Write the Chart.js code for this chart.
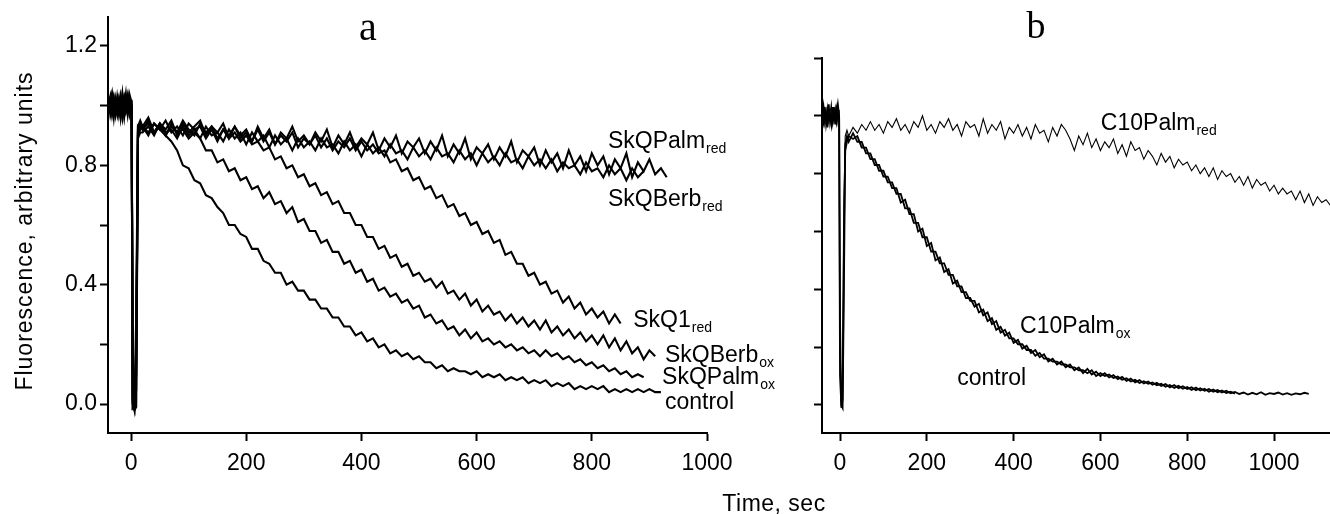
<!DOCTYPE html>
<html>
<head>
<meta charset="utf-8">
<script src="https://cdn.jsdelivr.net/npm/chart.js@4.4.1/dist/chart.umd.min.js"></script>
<style>
  html, body { margin: 0; padding: 0; background: #fff; }
  #wrap { position: relative; width: 1330px; height: 514px; }
  #chartA { position: absolute; left: 0; top: 0; }
  #chartB { position: absolute; left: 740px; top: 0; }
</style>
</head>
<body>
<div id="wrap">
  <canvas id="chartA" width="1330" height="514"></canvas>
  <canvas id="chartB" width="590" height="514"></canvas>
</div>
<script>
// ---- ticks ----
const tickX = [0, 200, 400, 600, 800, 1000];
const tickY = [0, 0.2, 0.4, 0.6, 0.8, 1.0, 1.2];
const tickYLabelsA = ['0.0', '', '0.4', '', '0.8', '', '1.2'];
const tickYLabelsB = ['', '', '', '', '', '', ''];

// ---- panel a : time (s) ----
const timeA = [-39,-36,-33,-30,-27,-24,-21,-18,-15,-12,-9,-6,-3,1,3,6,9,12,16,
  20,30,40,50,60,70,80,90,100,110,
  120,130,140,150,160,170,180,190,200,210,
  220,230,240,250,260,270,280,290,300,310,
  320,330,340,350,360,370,380,390,400,410,
  420,430,440,450,460,470,480,490,500,510,
  520,530,540,550,560,570,580,590,600,610,
  620,630,640,650,660,670,680,690,700,710,
  720,730,740,750,760,770,780,790,800,810,
  820,830,840,850,860,870,880,890,900,910,
  920,930];

const controlA = [1.01,0.98,1.03,0.99,1.00,0.97,1.02,0.99,1.04,0.98,1.01,0.97,1.03,1.00,0.00,-0.02,-0.01,0.90,0.92,
  0.93,0.91,0.94,0.92,0.90,0.88,0.85,0.80,0.79,0.75,
  0.74,0.70,0.69,0.66,0.64,0.60,0.60,0.57,0.56,0.52,
  0.52,0.48,0.47,0.44,0.44,0.40,0.41,0.38,0.38,0.35,
  0.35,0.32,0.32,0.29,0.29,0.26,0.26,0.23,0.24,0.21,
  0.22,0.19,0.20,0.17,0.18,0.16,0.17,0.15,0.16,0.14,
  0.14,0.12,0.13,0.11,0.12,0.11,0.11,0.10,0.11,0.09,
  0.10,0.09,0.10,0.08,0.09,0.08,0.09,0.07,0.08,0.07,
  0.08,0.06,0.07,0.06,0.07,0.05,0.06,0.05,0.06,0.05,
  0.06,0.04,0.05,0.04,0.05,0.04,0.05,0.04,0.05,0.04,
  0.04];

const skqPalmOx = [0.99,1.02,0.97,1.01,0.98,1.03,0.99,1.00,0.96,1.02,0.99,1.03,0.98,0.99,0.02,-0.01,0.20,0.91,0.93,
  0.92,0.94,0.91,0.93,0.90,0.94,0.91,0.92,0.89,0.91,
  0.89,0.85,0.85,0.81,0.82,0.78,0.79,0.75,0.76,0.72,
  0.73,0.69,0.71,0.67,0.68,0.64,0.66,0.61,0.62,0.58,
  0.58,0.54,0.55,0.51,0.51,0.47,0.48,0.44,0.45,0.41,
  0.42,0.38,0.39,0.36,0.37,0.34,0.35,0.32,0.33,0.29,
  0.30,0.27,0.28,0.25,0.26,0.23,0.25,0.22,0.24,0.21,
  0.22,0.20,0.21,0.19,0.20,0.18,0.19,0.17,0.18,0.16,
  0.18,0.16,0.17,0.15,0.16,0.14,0.15,0.13,0.14,0.12,
  0.13,0.11,0.12,0.10,0.11,0.09,0.10,0.09];

const skqBerbOx = [1.03,0.99,1.01,0.96,1.02,0.98,1.00,1.03,0.97,1.01,0.99,1.02,1.00,0.98,-0.01,0.00,0.10,0.93,0.92,
  0.93,0.90,0.94,0.92,0.95,0.91,0.93,0.90,0.94,0.92,
  0.93,0.89,0.92,0.88,0.92,0.89,0.91,0.88,0.90,0.87,
  0.88,0.85,0.86,0.82,0.83,0.79,0.80,0.76,0.77,0.73,
  0.74,0.70,0.71,0.67,0.68,0.64,0.64,0.60,0.60,0.56,
  0.56,0.52,0.53,0.49,0.50,0.46,0.47,0.43,0.44,0.41,
  0.42,0.39,0.41,0.37,0.38,0.35,0.37,0.33,0.35,0.31,
  0.33,0.30,0.31,0.28,0.30,0.27,0.29,0.26,0.28,0.25,
  0.28,0.24,0.26,0.23,0.25,0.22,0.24,0.21,0.23,0.20,
  0.23,0.19,0.22,0.18,0.21,0.17,0.19,0.15,0.18,0.16];

const skq1Red = [1.00,1.03,0.98,1.02,0.97,1.01,0.98,1.03,0.99,1.00,1.04,0.98,1.01,0.99,0.01,-0.02,0.05,0.92,0.94,
  0.92,0.95,0.91,0.94,0.90,0.93,0.91,0.95,0.92,0.90,
  0.94,0.91,0.93,0.89,0.92,0.90,0.93,0.89,0.91,0.88,
  0.92,0.88,0.91,0.87,0.90,0.88,0.91,0.86,0.89,0.87,
  0.90,0.86,0.89,0.85,0.88,0.86,0.89,0.85,0.88,0.85,
  0.87,0.84,0.85,0.81,0.82,0.78,0.79,0.75,0.76,0.72,
  0.73,0.69,0.70,0.66,0.67,0.63,0.64,0.60,0.61,0.57,
  0.58,0.54,0.55,0.50,0.51,0.47,0.47,0.43,0.44,0.40,
  0.41,0.37,0.38,0.34,0.36,0.32,0.34,0.30,0.32,0.29,
  0.31,0.27,0.30,0.27];

const skqPalmRed = [0.98,1.01,1.04,0.98,1.00,1.02,0.97,1.01,1.00,0.96,1.02,0.99,1.04,1.01,0.00,-0.01,0.30,0.93,0.95,
  0.93,0.96,0.91,0.94,0.92,0.95,0.90,0.94,0.91,0.93,
  0.95,0.90,0.93,0.91,0.94,0.89,0.93,0.90,0.92,0.88,
  0.93,0.89,0.92,0.87,0.91,0.89,0.93,0.88,0.90,0.87,
  0.91,0.88,0.92,0.86,0.90,0.87,0.91,0.86,0.89,0.87,
  0.91,0.85,0.89,0.86,0.90,0.84,0.88,0.86,0.89,0.84,
  0.88,0.85,0.90,0.83,0.87,0.84,0.89,0.82,0.86,0.84,
  0.87,0.82,0.86,0.83,0.88,0.81,0.85,0.83,0.86,0.80,
  0.85,0.81,0.84,0.79,0.85,0.80,0.83,0.78,0.84,0.80,
  0.83,0.77,0.82,0.79,0.84,0.76,0.81,0.78,0.82,0.77,
  0.79,0.76];

const skqBerbRed = [1.02,0.97,1.00,1.03,0.99,0.98,1.02,0.96,1.01,1.03,0.98,1.00,0.97,1.02,-0.02,0.01,0.15,0.89,0.91,
  0.91,0.93,0.90,0.94,0.91,0.92,0.89,0.93,0.90,0.92,
  0.89,0.93,0.90,0.91,0.88,0.92,0.89,0.91,0.87,0.91,
  0.88,0.90,0.86,0.90,0.87,0.89,0.85,0.89,0.86,0.88,
  0.85,0.89,0.86,0.87,0.84,0.88,0.85,0.87,0.83,0.87,
  0.84,0.86,0.83,0.87,0.84,0.85,0.82,0.86,0.83,0.85,
  0.82,0.86,0.83,0.84,0.81,0.85,0.82,0.84,0.80,0.84,
  0.81,0.83,0.80,0.84,0.81,0.82,0.79,0.83,0.80,0.82,
  0.79,0.82,0.78,0.81,0.79,0.80,0.77,0.81,0.78,0.79,
  0.76,0.80,0.77,0.79,0.75,0.79,0.76,0.78];

// ---- panel b : time (s) ----
const timeB = [-41,-38,-35,-32,-29,-26,-23,-20,-17,-14,-11,-8,-5,-2,0,3,6,9,12,16,
  20,30,40,50,60,70,80,90,100,110,
  120,130,140,150,160,170,180,190,200,210,
  220,230,240,250,260,270,280,290,300,310,
  320,330,340,350,360,370,380,390,400,410,
  420,430,440,450,460,470,480,490,500,510,
  520,530,540,550,560,570,580,590,600,610,
  620,630,640,650,660,670,680,690,700,710,
  720,730,740,750,760,770,780,790,800,810,
  820,830,840,850,860,870,880,890,900,910,
  920,930,940,950,960,970,980,990,1000,1010,
  1020,1030,1040,1050,1060,1070,1080,1090,1100,1110,
  1120,1130];

const controlB = [1.02,0.99,1.03,0.97,1.00,1.04,0.98,1.01,0.99,1.03,0.97,1.01,1.04,1.00,0.30,-0.01,0.02,0.60,0.88,0.91,
  0.93,0.92,0.93,0.89,0.89,0.85,0.85,0.81,0.81,0.77,
  0.77,0.73,0.73,0.68,0.68,0.63,0.63,0.58,0.58,0.53,
  0.53,0.49,0.49,0.45,0.45,0.41,0.41,0.37,0.37,0.34,
  0.35,0.31,0.32,0.28,0.29,0.25,0.26,0.23,0.23,0.21,
  0.21,0.19,0.19,0.17,0.18,0.16,0.16,0.15,0.15,0.14,
  0.14,0.13,0.13,0.12,0.12,0.11,0.12,0.10,0.11,0.10,
  0.105,0.093,0.098,0.087,0.092,0.081,0.087,0.076,0.082,0.073,
  0.078,0.068,0.073,0.063,0.069,0.059,0.066,0.056,0.062,0.052,
  0.06,0.05,0.056,0.046,0.053,0.044,0.05,0.041,0.046,0.039];

const c10PalmOx = [0.99,1.03,0.98,1.01,0.96,1.02,1.00,0.97,1.03,0.99,1.02,0.98,1.01,0.99,0.10,0.00,-0.01,0.40,0.90,0.93,
  0.91,0.94,0.91,0.91,0.87,0.87,0.83,0.83,0.79,0.79,
  0.75,0.75,0.70,0.71,0.66,0.66,0.60,0.61,0.55,0.56,
  0.50,0.51,0.46,0.47,0.42,0.43,0.39,0.39,0.36,0.36,
  0.32,0.33,0.29,0.30,0.26,0.27,0.24,0.25,0.215,0.225,
  0.195,0.205,0.18,0.19,0.165,0.175,0.15,0.16,0.14,0.15,
  0.13,0.14,0.12,0.13,0.11,0.125,0.105,0.115,0.10,0.11,
  0.095,0.103,0.089,0.097,0.083,0.091,0.078,0.086,0.074,0.081,
  0.07,0.077,0.066,0.072,0.061,0.069,0.058,0.065,0.055,0.061,
  0.051,0.058,0.049,0.055,0.046,0.052,0.043,0.049,0.04,0.045,
  0.038,0.043,0.036,0.042,0.037,0.044,0.035,0.041,0.038,0.043,
  0.036,0.041,0.035,0.04,0.037,0.042,0.038];

const c10PalmRed = [1.00,0.97,1.02,0.99,1.03,0.98,1.01,1.04,0.97,1.00,0.99,1.03,0.98,1.02,0.20,0.01,0.05,0.70,0.93,0.95,
  0.93,0.96,0.94,0.97,0.95,0.98,0.95,0.97,0.94,0.98,
  0.96,0.99,0.95,0.97,0.94,0.98,0.96,1.00,0.95,0.97,
  0.94,0.98,0.96,0.99,0.95,0.97,0.93,0.98,0.96,0.97,
  0.93,0.99,0.94,0.97,0.95,0.98,0.92,0.96,0.94,0.97,
  0.93,0.96,0.92,0.97,0.94,0.95,0.91,0.96,0.93,0.97,
  0.95,0.92,0.88,0.93,0.90,0.94,0.89,0.92,0.88,0.91,
  0.89,0.92,0.87,0.90,0.86,0.91,0.88,0.89,0.85,0.88,
  0.86,0.83,0.87,0.84,0.86,0.82,0.85,0.83,0.84,0.81,
  0.83,0.80,0.82,0.79,0.82,0.78,0.81,0.79,0.80,0.77,
  0.79,0.76,0.79,0.75,0.78,0.76,0.77,0.74,0.76,0.73,
  0.75,0.73,0.74,0.71,0.74,0.70,0.73,0.69,0.72,0.70,
  0.71,0.69];

// curve labels (left end / baseline, in data units)
const labelTextA = ['SkQPalm', 'SkQBerb', 'SkQ1', 'SkQBerb', 'SkQPalm', 'control'];
const labelSubA  = ['red', 'red', 'red', 'ox', 'ox', ''];
const labelXA    = [828, 828, 872, 927, 922, 927];
const labelYA    = [0.857, 0.662, 0.259, 0.141, 0.067, -0.017];

const labelTextB = ['C10Palm', 'C10Palm', 'control'];
const labelSubB  = ['red', 'ox', ''];
const labelXB    = [601, 415, 270];
const labelYB    = [0.952, 0.249, 0.069];

const FONT = '"Liberation Sans", Arial, Helvetica, sans-serif';
const SERIF = '"Liberation Serif", "Times New Roman", serif';

function pts(times, vals) {
  return vals.map((v, i) => ({ x: times[i], y: v }));
}

function line(vals, times, w) {
  return { data: pts(times, vals), borderColor: '#000', borderWidth: w,
           pointRadius: 0, tension: 0, fill: false };
}

function curveLabels(texts, subs, xs, ys) {
  return {
    id: 'curveLabels',
    afterDraw(chart) {
      const ctx = chart.ctx, sx = chart.scales.x, sy = chart.scales.y;
      ctx.save();
      ctx.fillStyle = '#000';
      ctx.textAlign = 'left';
      ctx.textBaseline = 'alphabetic';
      texts.forEach((t, i) => {
        const px = sx.getPixelForValue(xs[i]);
        const py = sy.getPixelForValue(ys[i]);
        ctx.font = '23px ' + FONT;
        ctx.fillText(t, px, py);
        if (subs[i]) {
          const w = ctx.measureText(t).width;
          ctx.font = '14px ' + FONT;
          ctx.fillText(subs[i], px + w + 1, py + 5);
        }
      });
      ctx.restore();
    }
  };
}

function axisOpts(min, max, ticks, labels, labelPad, fit) {
  return {
    type: 'linear', min: min, max: max,
    afterBuildTicks: s => { s.ticks = ticks.map(v => ({ value: v })); },
    ticks: { autoSkip: false, maxRotation: 0, color: '#000',
             font: { size: 23, family: FONT }, padding: labelPad,
             callback: (v, i) => labels[i] },
    grid: { drawOnChartArea: false, drawTicks: true, tickLength: 8, tickWidth: 2, tickColor: '#000' },
    border: { display: true, color: '#000', width: 2 },
    afterFit: fit
  };
}

const pageText = {
  id: 'pageText',
  afterDraw(chart) {
    const ctx = chart.ctx;
    ctx.save();
    ctx.fillStyle = '#000';
    ctx.font = '40px ' + SERIF;
    ctx.textAlign = 'center';
    ctx.textBaseline = 'alphabetic';
    ctx.fillText('a', 368, 40);
    ctx.font = '23px ' + FONT;
    ctx.letterSpacing = '0.5px';
    ctx.fillText('Time, sec', 774, 511);
    ctx.translate(32, 231);
    ctx.rotate(-Math.PI / 2);
    ctx.letterSpacing = '1px';
    ctx.fillText('Fluorescence, arbitrary units', 0, 0);
    ctx.restore();
  }
};

const panelBText = {
  id: 'panelBText',
  afterDraw(chart) {
    const ctx = chart.ctx;
    ctx.save();
    ctx.fillStyle = '#000';
    ctx.font = '38px ' + SERIF;
    ctx.textAlign = 'center';
    ctx.fillText('b', 296, 38);
    ctx.restore();
  }
};

const xLabels = tickX.map(v => String(v));

new Chart(document.getElementById('chartA'), {
  type: 'line',
  data: {
    datasets: [
      line(skqPalmRed, timeA, 2.1),
      line(skqBerbRed, timeA, 2.1),
      line(skq1Red, timeA, 2.1),
      line(skqBerbOx, timeA, 2.1),
      line(skqPalmOx, timeA, 2.1),
      line(controlA, timeA, 2.1)
    ]
  },
  options: {
    responsive: false, animation: false, devicePixelRatio: 1,
    layout: { padding: { left: 0, top: 17, right: 623, bottom: 0 } },
    plugins: { legend: { display: false }, tooltip: { enabled: false } },
    scales: {
      x: axisOpts(-40, 1000, tickX, xLabels, 9, s => { s.height = 81; }),
      y: axisOpts(-0.097, 1.297, tickY, tickYLabelsA, 3, s => { s.width = 108; })
    }
  },
  plugins: [curveLabels(labelTextA, labelSubA, labelXA, labelYA), pageText]
});

new Chart(document.getElementById('chartB'), {
  type: 'line',
  data: {
    datasets: [
      line(c10PalmRed, timeB, 1.1),
      line(c10PalmOx, timeB, 1.8),
      line(controlB, timeB, 1.8)
    ]
  },
  options: {
    responsive: false, animation: false, devicePixelRatio: 1,
    layout: { padding: { left: 0, top: 58, right: 0, bottom: 0 } },
    plugins: { legend: { display: false }, tooltip: { enabled: false } },
    scales: {
      x: axisOpts(-41.5, 1129, tickX, xLabels, 9, s => { s.height = 81; }),
      y: axisOpts(-0.097, 1.2, tickY, tickYLabelsB, 3, s => { s.width = 82; })
    }
  },
  plugins: [curveLabels(labelTextB, labelSubB, labelXB, labelYB), panelBText]
});
</script>
</body>
</html>
